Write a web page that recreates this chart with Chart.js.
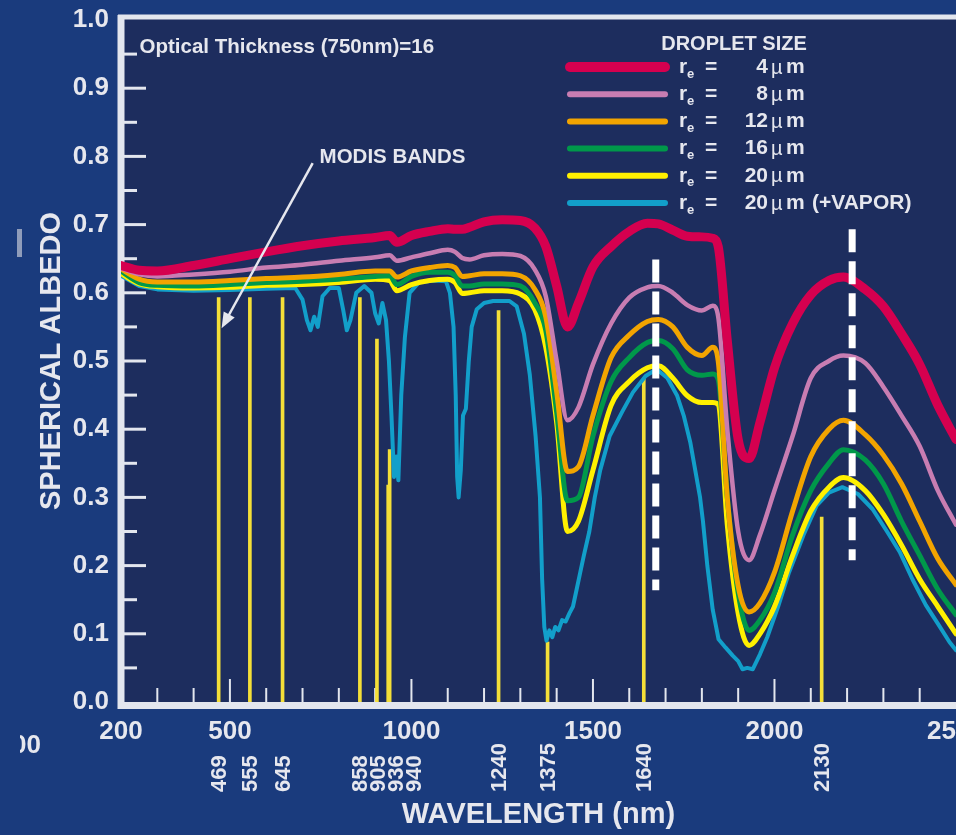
<!DOCTYPE html>
<html>
<head>
<meta charset="utf-8">
<title>Spherical albedo vs wavelength</title>
<script src="https://cdn.jsdelivr.net/npm/chart.js@4.4.1/dist/chart.umd.min.js"></script>
<style>
  html, body { margin: 0; padding: 0; background: #1a3b7d; overflow: hidden; }
  canvas { display: block; }
</style>
</head>
<body>
<canvas id="albedoChart" width="956" height="835"></canvas>
<script>
const wavelength = [
  200, 250, 300, 400, 500, 600, 700, 800, 900, 940,
  960, 1000, 1050, 1100, 1120, 1140, 1160, 1200, 1250, 1300,
  1340, 1370, 1400, 1430, 1460, 1500, 1550, 1600, 1650, 1680,
  1720, 1760, 1800, 1830, 1845, 1870, 1900, 1930, 1960, 2000,
  2050, 2100, 2150, 2190, 2250, 2300, 2350, 2400, 2450, 2500,
];
const albedo4 = [
  0.640, 0.633, 0.632, 0.640, 0.650, 0.660, 0.669, 0.676, 0.681, 0.684,
  0.674, 0.684, 0.690, 0.694, 0.693, 0.693, 0.696, 0.704, 0.707, 0.706,
  0.695, 0.668, 0.610, 0.550, 0.585, 0.638, 0.668, 0.690, 0.702, 0.701,
  0.692, 0.683, 0.682, 0.680, 0.668, 0.530, 0.385, 0.357, 0.410, 0.490,
  0.555, 0.597, 0.618, 0.623, 0.605, 0.580, 0.540, 0.495, 0.435, 0.385,
];
const albedo8 = [
  0.636, 0.627, 0.624, 0.627, 0.631, 0.637, 0.641, 0.647, 0.652, 0.655,
  0.647, 0.652, 0.658, 0.663, 0.660, 0.651, 0.649, 0.655, 0.657, 0.654,
  0.634, 0.595, 0.500, 0.413, 0.432, 0.495, 0.555, 0.593, 0.608, 0.610,
  0.600, 0.582, 0.574, 0.581, 0.565, 0.400, 0.250, 0.208, 0.245, 0.310,
  0.390, 0.475, 0.500, 0.508, 0.497, 0.462, 0.420, 0.375, 0.310, 0.260,
];
const albedo12 = [
  0.635, 0.620, 0.616, 0.616, 0.618, 0.621, 0.623, 0.627, 0.632, 0.632,
  0.623, 0.632, 0.637, 0.640, 0.637, 0.624, 0.625, 0.628, 0.628, 0.625,
  0.605, 0.565, 0.455, 0.338, 0.345, 0.420, 0.505, 0.538, 0.558, 0.561,
  0.550, 0.520, 0.508, 0.520, 0.500, 0.300, 0.170, 0.132, 0.145, 0.190,
  0.280, 0.360, 0.400, 0.413, 0.392, 0.362, 0.320, 0.265, 0.210, 0.172,
];
const albedo16 = [
  0.632, 0.615, 0.611, 0.610, 0.612, 0.615, 0.617, 0.620, 0.624, 0.625,
  0.612, 0.624, 0.630, 0.630, 0.625, 0.610, 0.610, 0.613, 0.613, 0.610,
  0.585, 0.545, 0.425, 0.295, 0.300, 0.390, 0.470, 0.505, 0.527, 0.530,
  0.518, 0.487, 0.479, 0.481, 0.473, 0.300, 0.160, 0.105, 0.120, 0.160,
  0.245, 0.310, 0.350, 0.370, 0.355, 0.320, 0.265, 0.215, 0.165, 0.128,
];
const albedo20 = [
  0.628, 0.613, 0.609, 0.607, 0.608, 0.611, 0.612, 0.615, 0.620, 0.618,
  0.603, 0.612, 0.618, 0.620, 0.615, 0.599, 0.600, 0.603, 0.603, 0.598,
  0.575, 0.520, 0.410, 0.250, 0.265, 0.340, 0.435, 0.470, 0.490, 0.493,
  0.475, 0.449, 0.439, 0.439, 0.436, 0.260, 0.130, 0.083, 0.100, 0.140,
  0.215, 0.280, 0.315, 0.329, 0.310, 0.275, 0.230, 0.180, 0.140, 0.100,
];
const vaporWavelength = [
  200, 250, 300, 400, 500, 600, 680, 700, 712, 722, 732, 742,
  755, 775, 800, 812, 822, 832, 848, 870, 890, 900, 910, 920,
  930, 938, 945, 952, 958, 964, 972, 982, 995, 1020, 1060, 1095,
  1106, 1116, 1122, 1126, 1130, 1136, 1142, 1150, 1158, 1166, 1180, 1200,
  1225, 1270, 1290, 1310, 1326, 1342, 1354, 1360, 1366, 1372, 1380, 1388,
  1396, 1405, 1415, 1425, 1435, 1445, 1455, 1465, 1475, 1490, 1505, 1520,
  1546, 1580, 1610, 1645, 1675, 1705, 1732, 1750, 1768, 1785, 1795, 1803,
  1815, 1830, 1846, 1865, 1885, 1900, 1912, 1925, 1940, 1960, 1980, 2010,
  2040, 2080, 2116, 2150, 2187, 2230, 2270, 2310, 2345, 2380, 2417, 2450,
  2482, 2500,
];
const vaporAlbedo = [
  0.625, 0.610, 0.605, 0.603, 0.604, 0.606, 0.607, 0.590, 0.560, 0.545, 0.565, 0.550,
  0.595, 0.607, 0.607, 0.575, 0.545, 0.560, 0.600, 0.610, 0.600, 0.570, 0.555, 0.585,
  0.560, 0.500, 0.420, 0.330, 0.360, 0.325, 0.450, 0.535, 0.600, 0.615, 0.618, 0.617,
  0.600, 0.550, 0.450, 0.330, 0.300, 0.340, 0.420, 0.430, 0.500, 0.550, 0.576, 0.585,
  0.588, 0.588, 0.580, 0.540, 0.480, 0.390, 0.300, 0.180, 0.110, 0.090, 0.105, 0.095,
  0.110, 0.105, 0.120, 0.118, 0.130, 0.140, 0.165, 0.190, 0.215, 0.250, 0.300, 0.340,
  0.390, 0.425, 0.454, 0.478, 0.488, 0.475, 0.449, 0.420, 0.381, 0.330, 0.300, 0.265,
  0.200, 0.135, 0.092, 0.080, 0.068, 0.060, 0.048, 0.050, 0.048, 0.070, 0.095, 0.140,
  0.190, 0.245, 0.288, 0.307, 0.315, 0.305, 0.283, 0.250, 0.220, 0.180, 0.142, 0.115,
  0.088, 0.076,
];
const bandWavelength = [469, 555, 645, 858, 905, 936, 940, 1240, 1375, 1640, 2130];
const bandTop = [0.593, 0.593, 0.593, 0.593, 0.532, 0.318, 0.370, 0.574, 0.088, 0.473, 0.271];
const markerWavelength = [1673, 2214];
const markerLow = [0.164, 0.208];
const markerHigh = [0.649, 0.693];
const radiusLabels = ["4", "8", "12", "16", "20", "20"];
const xLabelTicks = [200, 500, 1000, 1500, 2000, 2500];
const yLabelTicks = [0, 0.1, 0.2, 0.3, 0.4, 0.5, 0.6, 0.7, 0.8, 0.9, 1.0];

const font = "'Liberation Sans', Arial, sans-serif";
const textColor = "#e6e7ee";
const frameColor = "#e3e6ee";
const plotColor = "#1d2d5e";
const pageColor = "#1a3b7d";

const toPoints = (xs, ys) => xs.map((x, i) => ({ x, y: ys[i] }));

const curve = (data, color, width, order) => ({
  type: "line",
  data,
  borderColor: color,
  borderWidth: width,
  pointRadius: 0,
  fill: false,
  cubicInterpolationMode: "monotone",
  borderJoinStyle: "round",
  borderCapStyle: "round",
  order,
});

const datasets = [
  curve(toPoints(wavelength, albedo4), "#d5004f", 9, 1),
  curve(toPoints(wavelength, albedo8), "#c87db2", 4.5, 2),
  curve(toPoints(wavelength, albedo12), "#f2a400", 5, 3),
  curve(toPoints(wavelength, albedo16), "#00984a", 5, 4),
  curve(toPoints(wavelength, albedo20), "#fff000", 5, 5),
  {
    ...curve(toPoints(vaporWavelength, vaporAlbedo), "#129fca", 4, 6),
    cubicInterpolationMode: "default",
    tension: 0,
  },
  {
    type: "bar",
    data: toPoints(bandWavelength, bandTop),
    backgroundColor: "#f4df38",
    barThickness: 3,
    grouped: false,
    order: 7,
  },
  ...markerWavelength.map((x, i) => ({
    type: "line",
    data: [{ x, y: markerHigh[i] }, { x, y: markerLow[i] }],
    borderColor: "#ffffff",
    borderWidth: 7,
    borderDash: [23, 9],
    borderCapStyle: "butt",
    pointRadius: 0,
    order: 0,
  })),
];

const decorations = {
  id: "decorations",
  beforeDraw(chart) {
    const { ctx, chartArea: a, width, height } = chart;
    ctx.save();
    ctx.fillStyle = pageColor;
    ctx.fillRect(0, 0, width, height);
    ctx.fillStyle = plotColor;
    ctx.fillRect(a.left, a.top - 3, a.right - a.left, a.bottom - a.top + 3);
    // leftovers of the neighbouring figure at the crop edge
    ctx.fillStyle = "#8f9cba";
    ctx.fillRect(17, 229, 5, 28);
    ctx.beginPath();
    ctx.rect(20, 700, 40, 80);
    ctx.clip();
    ctx.fillStyle = textColor;
    ctx.font = `bold 26px ${font}`;
    ctx.textAlign = "right";
    ctx.textBaseline = "middle";
    ctx.fillText("00", 41, 746);
    ctx.restore();
  },
  beforeDatasetsDraw(chart) {
    const { ctx, chartArea: a, scales } = chart;
    ctx.save();
    ctx.strokeStyle = frameColor;
    ctx.lineCap = "butt";
    ctx.lineWidth = 2;
    for (let v = 300; v < 2500; v += 100) {
      const px = scales.x.getPixelForValue(v);
      ctx.beginPath();
      ctx.moveTo(px, a.bottom);
      ctx.lineTo(px, a.bottom - (v % 500 === 0 ? 23 : 14));
      ctx.stroke();
    }
    ctx.lineWidth = 3;
    for (let k = 1; k < 20; k++) {
      const py = scales.y.getPixelForValue(k / 20);
      ctx.beginPath();
      ctx.moveTo(a.left, py);
      ctx.lineTo(a.left + (k % 2 === 0 ? 25 : 16), py);
      ctx.stroke();
    }
    ctx.lineWidth = 5;
    ctx.beginPath();
    ctx.moveTo(a.left - 3, a.top - 3);
    ctx.lineTo(a.right, a.top - 3);
    ctx.stroke();
    ctx.lineWidth = 7;
    ctx.beginPath();
    ctx.moveTo(a.left, a.top - 5);
    ctx.lineTo(a.left, a.bottom + 7);
    ctx.moveTo(a.left - 3, a.bottom + 3.5);
    ctx.lineTo(a.right, a.bottom + 3.5);
    ctx.stroke();
    ctx.restore();
  },
  afterDraw(chart) {
    const { ctx, scales } = chart;
    const px = (v) => scales.x.getPixelForValue(v);
    const py = (v) => scales.y.getPixelForValue(v);
    ctx.save();
    ctx.fillStyle = textColor;
    ctx.strokeStyle = textColor;
    ctx.textBaseline = "middle";
    ctx.textAlign = "left";

    ctx.font = `bold 20.5px ${font}`;
    ctx.fillText("Optical Thickness (750nm)=16", px(251), py(0.96));
    ctx.fillText("MODIS BANDS", px(747), py(0.798));

    const tail = [px(728), py(0.79)];
    const head = [px(477), py(0.548)];
    const ang = Math.atan2(head[1] - tail[1], head[0] - tail[0]);
    ctx.lineWidth = 2.5;
    ctx.beginPath();
    ctx.moveTo(tail[0], tail[1]);
    ctx.lineTo(head[0] - 10 * Math.cos(ang), head[1] - 10 * Math.sin(ang));
    ctx.stroke();
    ctx.beginPath();
    ctx.moveTo(head[0], head[1]);
    ctx.lineTo(head[0] - 17 * Math.cos(ang - 0.38), head[1] - 17 * Math.sin(ang - 0.38));
    ctx.lineTo(head[0] - 17 * Math.cos(ang + 0.38), head[1] - 17 * Math.sin(ang + 0.38));
    ctx.closePath();
    ctx.fill();

    // legend
    ctx.textAlign = "center";
    ctx.font = `bold 20px ${font}`;
    ctx.fillText("DROPLET SIZE", 734, 44);
    radiusLabels.forEach((label, i) => {
      const ds = chart.data.datasets[i];
      const y = 67 + i * 27.2;
      ctx.strokeStyle = ds.borderColor;
      ctx.lineWidth = i === 0 ? 10 : 6;
      ctx.lineCap = "round";
      ctx.beginPath();
      ctx.moveTo(570, y);
      ctx.lineTo(665, y);
      ctx.stroke();
      ctx.textAlign = "left";
      ctx.font = `bold 21px ${font}`;
      ctx.fillText("r", 679, y);
      ctx.fillText("=", 705, y);
      ctx.fillText("m", 786, y);
      if (i === 5) ctx.fillText("(+VAPOR)", 812, y);
      ctx.font = `bold 13px ${font}`;
      ctx.fillText("e", 687, y + 7);
      ctx.font = `20px ${font}`;
      ctx.fillText("\u00b5", 771, y + 1);
      ctx.font = `bold 21px ${font}`;
      ctx.textAlign = "right";
      ctx.fillText(label, 768, y);
    });

    // band labels under the axis, nudged apart where they crowd
    ctx.font = `bold 22px ${font}`;
    ctx.textAlign = "left";
    let last = -Infinity;
    bandWavelength.forEach((wl) => {
      const x = Math.max(px(wl), last + 18);
      last = x;
      ctx.save();
      ctx.translate(x, 792);
      ctx.rotate(-Math.PI / 2);
      ctx.fillText(String(wl), 0, 1);
      ctx.restore();
    });
    ctx.restore();
  },
};

new Chart(document.getElementById("albedoChart").getContext("2d"), {
  type: "line",
  data: { datasets },
  options: {
    responsive: false,
    animation: false,
    events: [],
    layout: { padding: { top: 20, right: 0, bottom: 0, left: 0 } },
    plugins: { legend: { display: false }, tooltip: { enabled: false } },
    scales: {
      x: {
        type: "linear",
        min: 200,
        max: 2500,
        offset: false,
        grid: { display: false, drawTicks: false, offset: false },
        border: { display: false },
        afterBuildTicks: (scale) => {
          scale.ticks = xLabelTicks.map((value) => ({ value }));
        },
        afterFit: (scale) => {
          scale.height = 133;
          scale.paddingLeft = 0;
          scale.paddingRight = 0;
        },
        ticks: {
          color: textColor,
          font: { family: font, size: 26, weight: "bold" },
          padding: 14,
          maxRotation: 0,
          autoSkip: false,
          callback: (v) => String(v),
        },
        title: {
          display: true,
          text: "WAVELENGTH (nm)",
          color: textColor,
          font: { family: font, size: 29, weight: "bold" },
          padding: { top: 0, bottom: 3 },
        },
      },
      y: {
        type: "linear",
        min: 0,
        max: 1,
        grid: { display: false, drawTicks: false },
        border: { display: false },
        afterBuildTicks: (scale) => {
          scale.ticks = yLabelTicks.map((value) => ({ value }));
        },
        afterFit: (scale) => {
          scale.width = 121;
          scale.paddingTop = 0;
          scale.paddingBottom = 0;
        },
        ticks: {
          color: textColor,
          font: { family: font, size: 26, weight: "bold" },
          padding: 12,
          autoSkip: false,
          callback: (v) => v.toFixed(1),
        },
        title: {
          display: true,
          text: "SPHERICAL ALBEDO",
          color: textColor,
          font: { family: font, size: 29, weight: "bold" },
          padding: { top: 35, bottom: 0 },
        },
      },
    },
  },
  plugins: [decorations],
});
</script>
</body>
</html>
